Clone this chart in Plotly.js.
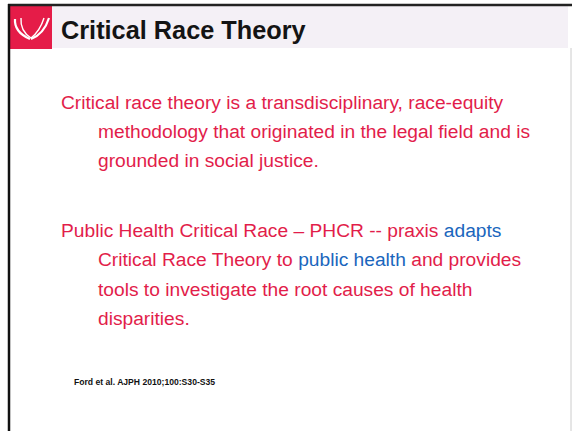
<!DOCTYPE html>
<html>
<head>
<meta charset="utf-8">
<script src="https://cdn.plot.ly/plotly-3.0.1.min.js"></script>
<style>
html,body{margin:0;padding:0;background:#fff;}
#chart{width:572px;height:431px;}
</style>
</head>
<body>
<div id="chart"></div>
<script>
// Slide content
var slideTitle = "Critical Race Theory";
var para1Lines = [
  "Critical race theory is a transdisciplinary, race-equity",
  "methodology that originated in the legal field and is",
  "grounded in social justice."
];
var para2Lines = [
  "Public Health Critical Race \u2013 PHCR -- praxis <span style='color:#1a66bd'>adapts</span>",
  "Critical Race Theory to <span style='color:#1a66bd'>public health</span> and provides",
  "tools to investigate the root causes of health",
  "disparities."
];
var citation = "Ford et al. AJPH 2010;100:S30-S35";

var W = 572, H = 431;
var red = "#e21d4a";
var font = "Liberation Sans, Arial, sans-serif";

var para1Y = [102, 131, 160];
var para2Y = [230, 259, 289, 318];

var annotations = [];
annotations.push({x: 59, y: 30, xref: 'x', yref: 'y', text: "<b>" + slideTitle + "</b>",
  showarrow: false, xanchor: 'left', yanchor: 'middle',
  font: {family: font, size: 25.3, color: '#141414'}});
para1Lines.forEach(function(t, i) {
  annotations.push({x: i === 0 ? 59 : 96, y: para1Y[i], xref: 'x', yref: 'y', text: t,
    showarrow: false, xanchor: 'left', yanchor: 'middle',
    font: {family: font, size: 19.2, color: red}});
});
para2Lines.forEach(function(t, i) {
  annotations.push({x: i === 0 ? 59 : 96, y: para2Y[i], xref: 'x', yref: 'y', text: t,
    showarrow: false, xanchor: 'left', yanchor: 'middle',
    font: {family: font, size: 19.2, color: red}});
});
annotations.push({x: 72, y: 382, xref: 'x', yref: 'y', text: "<b>" + citation + "</b>",
  showarrow: false, xanchor: 'left', yanchor: 'middle',
  font: {family: font, size: 8.6, color: '#111'}});

var shapes = [
  // header band
  {type: 'rect', xref: 'x', yref: 'y', x0: 52, x1: 568, y0: 6, y1: 48,
   fillcolor: '#f4f0f6', line: {width: 0}, layer: 'below'},
  // logo square
  {type: 'rect', xref: 'x', yref: 'y', x0: 10, x1: 52, y0: 6, y1: 49,
   fillcolor: '#e51c48', line: {width: 0}},
  // top border
  {type: 'line', xref: 'x', yref: 'y', x0: 8, x1: 572, y0: 5, y1: 5,
   line: {color: '#222', width: 2.5}},
  // left border
  {type: 'line', xref: 'x', yref: 'y', x0: 9, x1: 9, y0: 4, y1: 431,
   line: {color: '#111', width: 2.5}},
  // right faint border
  {type: 'line', xref: 'x', yref: 'y', x0: 571, x1: 571, y0: 48, y1: 431,
   line: {color: '#ccc', width: 1}},
  // logo swooshes (left)
  {type: 'path', xref: 'x', yref: 'y', path: 'M 15 19 Q 14 32 30 39', line: {color: '#fff', width: 2.2}},
  {type: 'path', xref: 'x', yref: 'y', path: 'M 21 18 Q 20 31 31 38', line: {color: '#fff', width: 1.4}},
  // logo swooshes (right)
  {type: 'path', xref: 'x', yref: 'y', path: 'M 49 18 Q 44 34 31 39', line: {color: '#fff', width: 2.2}},
  {type: 'path', xref: 'x', yref: 'y', path: 'M 44 18 Q 40 31 31 38', line: {color: '#fff', width: 1.4}}
];

var layout = {
  width: W, height: H,
  margin: {l: 0, r: 0, t: 0, b: 0},
  paper_bgcolor: '#fff', plot_bgcolor: '#fff',
  xaxis: {range: [0, W], visible: false, fixedrange: true},
  yaxis: {range: [H, 0], visible: false, fixedrange: true},
  showlegend: false,
  annotations: annotations,
  shapes: shapes
};

Plotly.newPlot('chart', [], layout, {displayModeBar: false, staticPlot: true});
</script>
</body>
</html>
